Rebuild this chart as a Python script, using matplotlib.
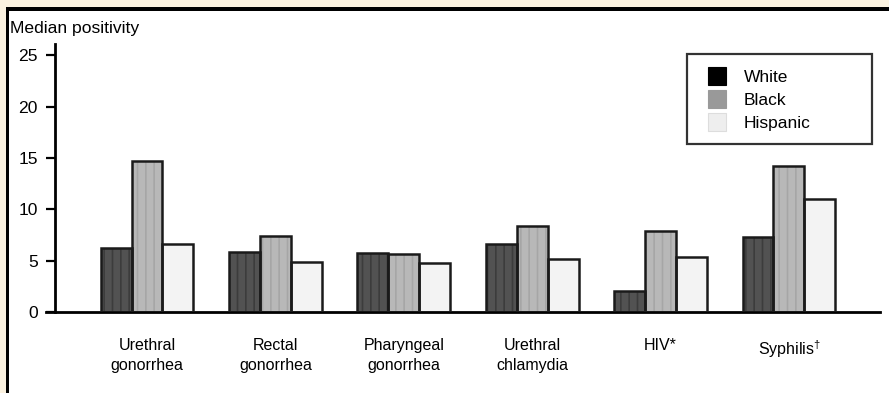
import numpy as np
import matplotlib
matplotlib.use('Agg')
import matplotlib.pyplot as plt
from matplotlib.patches import Patch, Rectangle
from matplotlib.legend_handler import HandlerPatch

plt.rcParams['font.family'] = ['Liberation Sans', 'DejaVu Sans']
plt.rcParams['mathtext.fontset'] = 'custom'
plt.rcParams['mathtext.rm'] = 'Liberation Sans'
plt.rcParams['hatch.linewidth'] = 1.2

# data
categories = ['Urethral\ngonorrhea', 'Rectal\ngonorrhea', 'Pharyngeal\ngonorrhea',
              'Urethral\nchlamydia', 'HIV*', 'Syphilis$^{\\dagger}$']
groups = ['White', 'Black', 'Hispanic']
white = [6.25, 5.87, 5.77, 6.6, 2.04, 7.26]
black = [14.7, 7.42, 5.64, 8.37, 7.9, 14.2]
hispanic = [6.58, 4.9, 4.8, 5.16, 5.38, 10.96]
yticks = [0, 5, 10, 15, 20, 25]

bar_faces = ['#525252', '#b8b8b8', '#f3f3f3']
stripe_cols = ['#3c3c3c', '#a6a6a6', '#f3f3f3']
legend_faces = ['#000000', '#999999', '#eeeeee']
legend_edges = ['#000000', '#999999', '#dddddd']

W, H = 889, 393
fig = plt.figure(figsize=(W / 100, H / 100), dpi=100)
fig.patch.set_facecolor('#fbf2e0')

# black frame + white panel
fig.add_artist(Rectangle((5.5 / W, 0), 1, 1 - 7 / H, transform=fig.transFigure,
                         facecolor='black', edgecolor='none', zorder=0))
fig.add_artist(Rectangle((9.3 / W, 0), 1, 1 - 11 / H, transform=fig.transFigure,
                         facecolor='white', edgecolor='none', zorder=0))

ax = fig.add_axes([55 / W, 81 / H, 825 / W, 268 / H])
ax.set_facecolor('none')

x = np.arange(len(categories))
width = 0.241
series = [white, black, hispanic]
for i, vals in enumerate(series):
    pos = x + (i - 1) * width
    ax.bar(pos, vals, width, color=bar_faces[i], edgecolor=stripe_cols[i],
           hatch='||', linewidth=0, zorder=2)
    ax.bar(pos, vals, width, facecolor='none', edgecolor='#1a1a1a',
           linewidth=1.8, zorder=3)

ax.set_xlim(-0.7165, 5.709)
ax.set_ylim(0, 26.1)
ax.set_yticks(yticks)
ax.set_xticks(x)
ax.set_xticklabels(categories, fontsize=11.5, linespacing=1.35)
ax.tick_params(axis='x', length=0, pad=19)
ax.tick_params(axis='y', length=6.5, width=1.6, pad=6, labelsize=12.6, direction='out')

for s in ['top', 'right']:
    ax.spines[s].set_visible(False)
ax.spines['left'].set_linewidth(2)
ax.spines['bottom'].set_linewidth(2)
ax.spines['bottom'].set_bounds(-0.7165 - 9 / 128.4, 5.709)
ax.spines['bottom'].set_clip_on(False)

fig.text(10 / W, 1 - 28 / H, 'Median positivity', fontsize=12.6, va='center', ha='left')


def square_patch(legend, orig_handle, xdescent, ydescent, width, height, fontsize):
    # square swatch pushed to the right end of the handle box
    return Rectangle((-xdescent + width - height, -ydescent), height, height)


handles = [Patch(facecolor=legend_faces[i], edgecolor=legend_edges[i], linewidth=0.8,
                 label=groups[i]) for i in range(3)]
leg = ax.legend(handles=handles, loc='upper left', mode='expand',
                bbox_to_anchor=(687 / W, 1 - 142 / H, 185 / W, 88 / H),
                bbox_transform=fig.transFigure, borderaxespad=0,
                fontsize=12.5, frameon=True, fancybox=False, edgecolor='black',
                handlelength=1.5, handleheight=1.2, handletextpad=1.0,
                labelspacing=0.3, borderpad=0.75,
                handler_map={Patch: HandlerPatch(patch_func=square_patch)})
leg.get_frame().set_linewidth(1.6)

fig.savefig('out.png', dpi=100, facecolor=fig.get_facecolor())
